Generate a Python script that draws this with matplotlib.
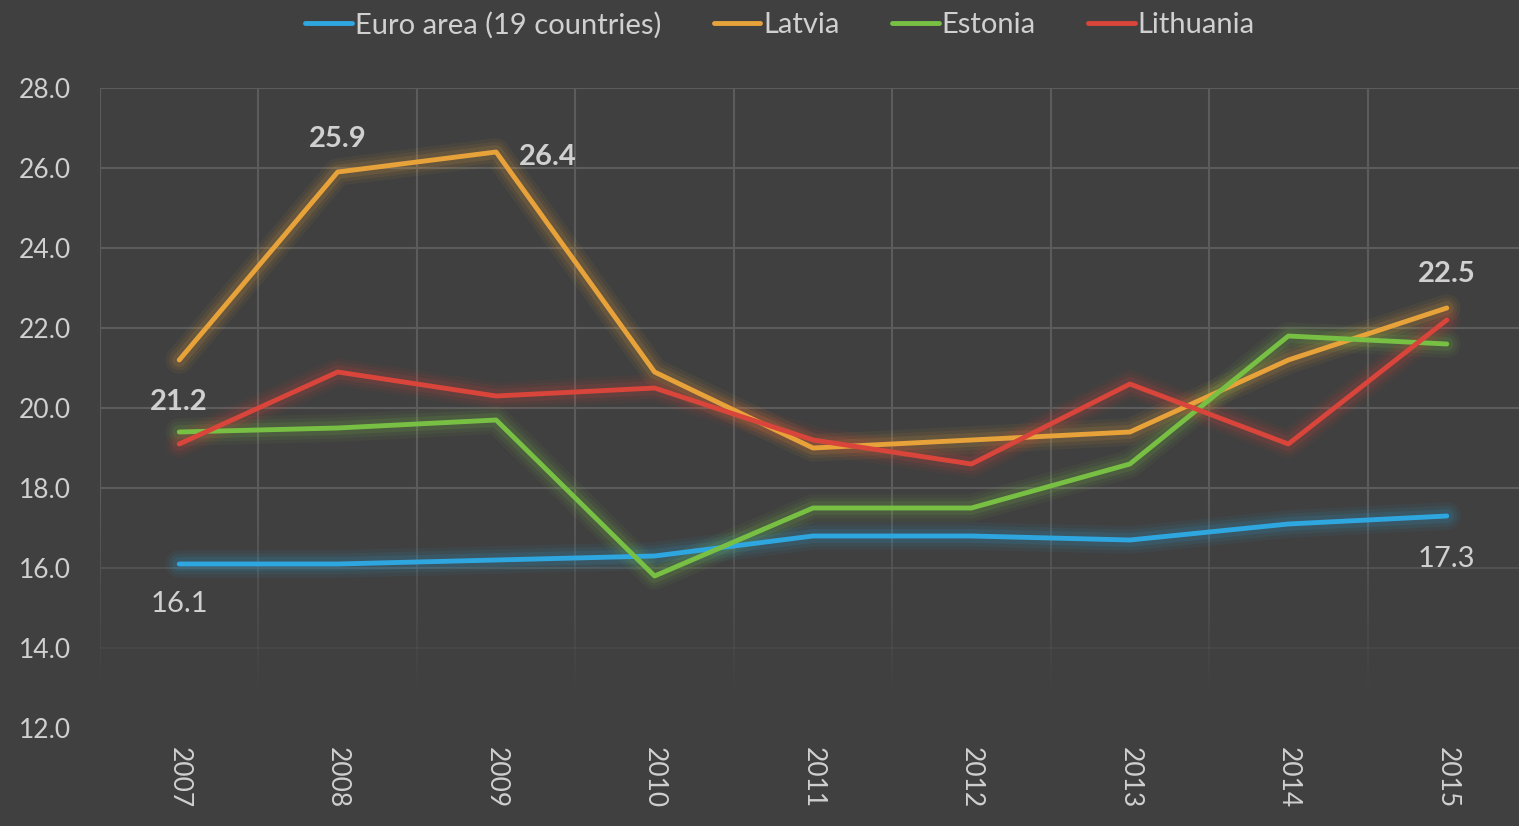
import matplotlib
matplotlib.use("Agg")
import matplotlib.pyplot as plt
import numpy as np
from matplotlib.collections import LineCollection

years = ["2007", "2008", "2009", "2010", "2011", "2012", "2013", "2014", "2015"]
euro_area = [16.1, 16.1, 16.2, 16.3, 16.8, 16.8, 16.7, 17.1, 17.3]
latvia = [21.2, 25.9, 26.4, 20.9, 19.0, 19.2, 19.4, 21.2, 22.5]
estonia = [19.4, 19.5, 19.7, 15.8, 17.5, 17.5, 18.6, 21.8, 21.6]
lithuania = [19.1, 20.9, 20.3, 20.5, 19.2, 18.6, 20.6, 19.1, 22.2]
series_names = ["Euro area (19 countries)", "Latvia", "Estonia", "Lithuania"]
y_ticks = [12.0, 14.0, 16.0, 18.0, 20.0, 22.0, 24.0, 26.0, 28.0]

colors = ["#2ea7e0", "#e8a23a", "#78c043", "#d9453a"]
BG = "#404040"
TXT = "#d0d0d0"
GRID = "#5c5c5c"
plt.rcParams['font.family'] = ['Lato', 'DejaVu Sans']

fig = plt.figure(figsize=(15.19, 8.26), dpi=100, facecolor=BG)
ax = fig.add_axes([100/1519, 98/826, 1426/1519, 640/826])
ax.set_facecolor(BG)
x = np.arange(len(years))
ax.set_xlim(-0.5, len(years) - 0.5)
ax.set_ylim(12, 28)

# fading gridlines
def fade_alpha(y):
    return float(np.clip((y - 12.8) / 5.0, 0, 1))

for yt in y_ticks:
    a = fade_alpha(yt)
    if a > 0:
        ax.axhline(yt, color=GRID, lw=1.5, alpha=a, zorder=1)
ys = np.linspace(12.8, 28, 80)
for xb in np.arange(-0.5, len(years), 1.0):
    segs = [[(xb, ys[i]), (xb, ys[i + 1])] for i in range(len(ys) - 1)]
    alphas = [fade_alpha((ys[i] + ys[i + 1]) / 2) for i in range(len(ys) - 1)]
    cols = [(0x5c/255, 0x5c/255, 0x5c/255, a) for a in alphas]
    ax.add_collection(LineCollection(segs, colors=cols, linewidths=1.5, zorder=1))

data = [euro_area, latvia, estonia, lithuania]
handles = []
for vals, c, name in zip(data, colors, series_names):
    for lw, al in [(20, 0.06), (15, 0.08), (10, 0.12)]:
        ax.plot(x, vals, color=c, lw=lw, alpha=al, solid_capstyle='round',
                solid_joinstyle='round', zorder=2)
for vals, c, name in zip(data, colors, series_names):
    h, = ax.plot(x, vals, color=c, lw=3.5, solid_capstyle='round', zorder=3, label=name)
    handles.append(h)

for s in ax.spines.values():
    s.set_visible(False)
ax.set_yticks(y_ticks)
ax.set_yticklabels([f"{v:.1f}" for v in y_ticks], color=TXT, fontsize=19)
ax.set_xticks(x)
ax.set_xticklabels(years, rotation=270, color=TXT, fontsize=19, va='top')
ax.tick_params(axis='x', length=0, pad=14)
ax.tick_params(axis='y', length=0, pad=21)

# data labels
lab_kw = dict(color=TXT, fontsize=21, ha='center', va='center', textcoords='offset pixels')
ax.annotate(f"{latvia[0]:.1f}", (x[0], latvia[0]), xytext=(0, -42), fontweight='bold', **lab_kw)
ax.annotate(f"{latvia[1]:.1f}", (x[1], latvia[1]), xytext=(0, 33), fontweight='bold', **lab_kw)
ax.annotate(f"{latvia[2]:.1f}", (x[2], latvia[2]), xytext=(52, -5), fontweight='bold', **lab_kw)
ax.annotate(f"{latvia[8]:.1f}", (x[8], latvia[8]), xytext=(0, 34), fontweight='bold', **lab_kw)
ax.annotate(f"{euro_area[0]:.1f}", (x[0], euro_area[0]), xytext=(0, -40), **lab_kw)
ax.annotate(f"{euro_area[8]:.1f}", (x[8], euro_area[8]), xytext=(0, -43), **lab_kw)

leg = fig.legend(handles=handles, loc='center', bbox_to_anchor=(780/1519, 1 - 25/826),
                 ncol=4, frameon=False, fontsize=21, handlelength=1.6, handletextpad=0.1,
                 columnspacing=1.8, labelcolor=TXT)
for lh in leg.get_lines():
    lh.set_linewidth(3.5)

fig.savefig("out.png", dpi=100, facecolor=BG)
